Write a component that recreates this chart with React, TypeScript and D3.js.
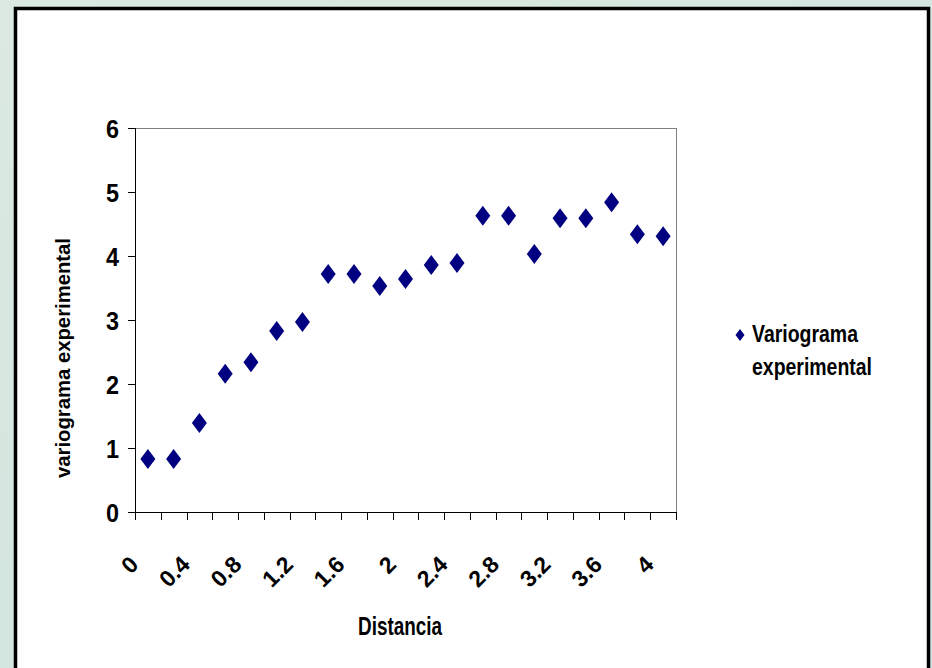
import React from "react";
import * as d3 from "d3";

// Lag distances (category axis) and experimental semivariance values
const distances: number[] = [
  0, 0.2, 0.4, 0.6, 0.8, 1.0, 1.2, 1.4, 1.6, 1.8, 2.0,
  2.2, 2.4, 2.6, 2.8, 3.0, 3.2, 3.4, 3.6, 3.8, 4.0,
];
const gamma: number[] = [
  0.83, 0.83, 1.39, 2.16, 2.34, 2.83, 2.97, 3.72, 3.72, 3.53, 3.64,
  3.86, 3.89, 4.63, 4.63, 4.03, 4.59, 4.59, 4.84, 4.34, 4.31,
];
const yTicks: number[] = [0, 1, 2, 3, 4, 5, 6];
const xLabelEvery = 2;

const W = 932;
const H = 668;
const FONT = "'Liberation Sans', Arial, Helvetica, sans-serif";
const NAVY = "#000080";

const diamond = (cx: number, cy: number, w: number, h: number) =>
  `M${cx},${cy - h / 2}L${cx + w / 2},${cy}L${cx},${cy + h / 2}L${cx - w / 2},${cy}Z`;

export default function App() {
  const left = 135;
  const right = 676;
  const top = 128;
  const bottom = 512;

  const cats = distances.map((d) => String(d));
  const x = d3.scaleBand<string>().domain(cats).range([left, right]).padding(0);
  const y = d3.scaleLinear().domain([0, 6]).range([bottom, top]);
  const bw = x.bandwidth();

  const boundaries = d3.range(cats.length + 1).map((i) => left + i * bw);
  const fmt = (v: number) => d3.format("~g")(v);

  return (
    <div style={{ position: "fixed", left: 0, top: 0, width: W, height: H }}>
      <svg width={W} height={H} style={{ display: "block" }}>
        <defs>
          <linearGradient id="bg" x1="0" y1="0" x2="1" y2="1">
            <stop offset="0" stopColor="#dbe9e1" />
            <stop offset="0.5" stopColor="#d3e6df" />
            <stop offset="1" stopColor="#cfe3df" />
          </linearGradient>
        </defs>
        <rect x={0} y={0} width={W} height={H} fill="url(#bg)" />
        {/* chart frame */}
        <rect x={15.5} y={8.5} width={913} height={700} fill="#ffffff" stroke="#000" strokeWidth={3.5} />

        {/* plot area border */}
        <rect x={left + 0.5} y={top + 0.5} width={right - left} height={bottom - top} fill="none" stroke="#808080" strokeWidth={1} />
        {/* axes */}
        <line x1={left + 0.5} x2={left + 0.5} y1={top} y2={bottom + 1} stroke="#000" />
        <line x1={left} x2={right + 1} y1={bottom + 0.5} y2={bottom + 0.5} stroke="#000" />

        {/* y ticks and labels */}
        {yTicks.map((t) => (
          <g key={`y${t}`}>
            <line x1={left - 7} x2={left} y1={Math.round(y(t)) + 0.5} y2={Math.round(y(t)) + 0.5} stroke="#000" />
            <text
              transform={`translate(${left - 16},${y(t) + 9.5}) scale(0.9,1)`}
              textAnchor="end"
              fontFamily={FONT}
              fontWeight="bold"
              fontSize={26}
              fill="#000"
            >
              {t}
            </text>
          </g>
        ))}

        {/* x ticks on category boundaries */}
        {boundaries.map((bx, i) => (
          <line key={`xt${i}`} x1={Math.round(bx) + 0.5} x2={Math.round(bx) + 0.5} y1={bottom} y2={bottom + 8} stroke="#000" />
        ))}

        {/* x labels, rotated */}
        {distances.map((d, i) =>
          i % xLabelEvery === 0 ? (
            <text
              key={`xl${i}`}
              transform={`translate(${(x(String(d)) as number) + bw / 2 - 8},566) rotate(-45)`}
              textAnchor="end"
              fontFamily={FONT}
              fontWeight="bold"
              fontSize={23}
              fill="#000"
            >
              {fmt(d)}
            </text>
          ) : null
        )}

        {/* markers */}
        {distances.map((d, i) => (
          <path
            key={`m${i}`}
            d={diamond((x(String(d)) as number) + bw / 2, y(gamma[i]), 15, 20)}
            fill={NAVY}
          />
        ))}

        {/* axis titles */}
        <text
          x={358}
          y={635}
          fontFamily={FONT}
          fontWeight="bold"
          fontSize={26}
          textLength={84}
          lengthAdjust="spacingAndGlyphs"
          fill="#000"
        >
          Distancia
        </text>
        <text
          transform="translate(70,358) rotate(-90)"
          textAnchor="middle"
          fontFamily={FONT}
          fontWeight="bold"
          fontSize={20}
          textLength={240}
          lengthAdjust="spacingAndGlyphs"
          fill="#000"
        >
          variograma experimental
        </text>

        {/* legend */}
        <path d={diamond(740, 335, 9, 12)} fill={NAVY} />
        <text x={752} y={342} fontFamily={FONT} fontWeight="bold" fontSize={23} textLength={106} lengthAdjust="spacingAndGlyphs" fill="#000">
          Variograma
        </text>
        <text x={752} y={375} fontFamily={FONT} fontWeight="bold" fontSize={23} textLength={120} lengthAdjust="spacingAndGlyphs" fill="#000">
          experimental
        </text>
      </svg>
    </div>
  );
}
